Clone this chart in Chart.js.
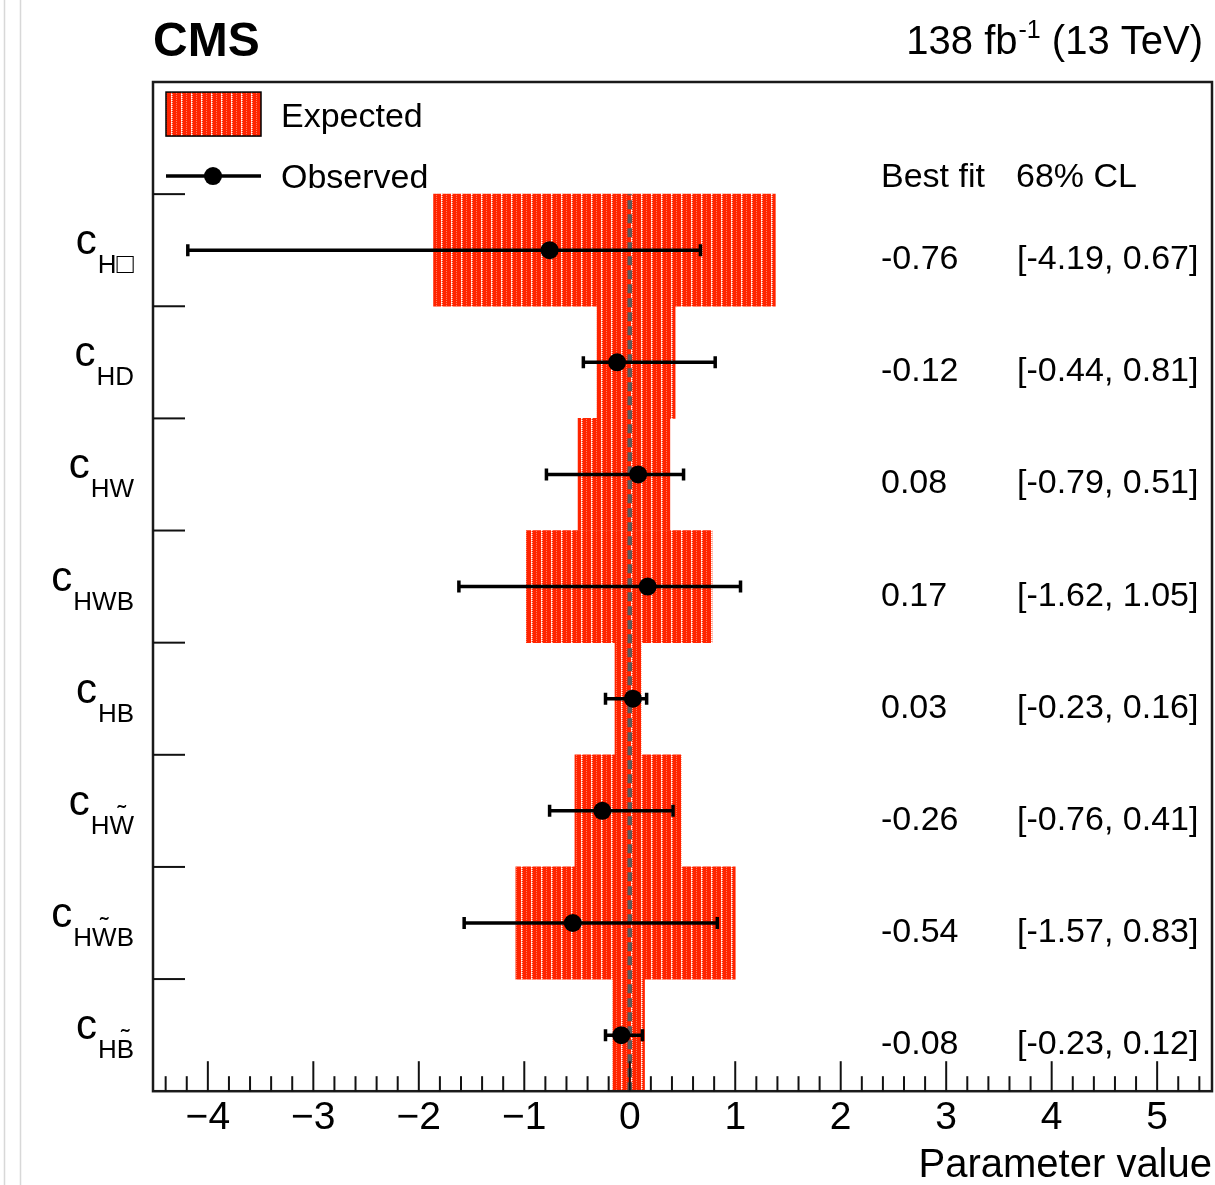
<!DOCTYPE html>
<html>
<head>
<meta charset="utf-8">
<script src="https://cdn.jsdelivr.net/npm/chart.js@4.4.0/dist/chart.umd.min.js"></script>
<style>
  html, body { margin: 0; padding: 0; background: #ffffff; }
  #wrap { position: relative; width: 1215px; height: 1185px; }
</style>
</head>
<body>
<div id="wrap"><canvas id="chart" width="1215" height="1185"></canvas></div>
<script>
const FONT = "'Liberation Sans', Arial, Helvetica, sans-serif";

// Wilson coefficients (one row each, top to bottom)
const coefficients = ['cHbox', 'cHD', 'cHW', 'cHWB', 'cHB', 'cHWtil', 'cHWtilB', 'cHBtil'];
// Subscripts as drawn; U+0303 puts a tilde on the preceding letter
const coeffSub = ['H\u25A1', 'HD', 'HW', 'HWB', 'HB', 'HW\u0303', 'HW\u0303B', 'HB\u0303'];

// Observed best fit and 68% CL interval
const bestFit = [-0.76, -0.12, 0.08, 0.17, 0.03, -0.26, -0.54, -0.08];
const clLow   = [-4.19, -0.44, -0.79, -1.62, -0.23, -0.76, -1.57, -0.23];
const clHigh  = [ 0.67,  0.81,  0.51,  1.05,  0.16,  0.41,  0.83,  0.12];

// Expected 68% CL interval
const expLow  = [-1.86, -0.31, -0.49, -0.98, -0.14, -0.52, -1.08, -0.16];
const expHigh = [ 1.38,  0.43,  0.38,  0.78,  0.11,  0.49,  1.00,  0.14];

// X axis labelled ticks
const xTicks = [-4, -3, -2, -1, 0, 1, 2, 3, 4, 5];

const rowLabels = [''].concat(coefficients);

const canvas = document.getElementById('chart');
const ctx = canvas.getContext('2d');

function makeHatch() {
  const t = document.createElement('canvas');
  t.width = 10; t.height = 4;
  const g = t.getContext('2d');
  g.fillStyle = '#ff2400'; g.fillRect(0, 0, 10, 4);
  g.fillStyle = '#ffffff'; g.fillRect(1, 0, 1, 1); g.fillRect(1, 2, 1, 1);
  g.fillStyle = '#ffa08c'; g.fillRect(1, 1, 1, 1); g.fillRect(1, 3, 1, 1);
  g.fillRect(2, 0, 1, 1); g.fillRect(2, 2, 1, 1);
  g.fillStyle = '#ff7a60'; g.fillRect(6, 1, 1, 1); g.fillRect(6, 3, 1, 1);
  return ctx.createPattern(t, 'repeat');
}
const hatch = makeHatch();

function fmt(v) { return v.toFixed(2); }

// Draw a subscript string, placing a small tilde over letters followed by U+0303
function glyphFont(ch, size) {
  return (ch === '\u25A1' ? Math.round(size * 1.1) : size) + 'px ' + FONT;
}
function drawSub(g, str, x, baseline, size) {
  g.textAlign = 'left';
  g.textBaseline = 'alphabetic';
  let cx = x;
  for (let i = 0; i < str.length; i++) {
    const ch = str[i];
    if (ch === '\u0303') continue;
    g.font = glyphFont(ch, size);
    const w = g.measureText(ch).width;
    g.fillText(ch, cx, baseline);
    if (str[i + 1] === '\u0303') {
      g.textAlign = 'center';
      g.fillText('\u02DC', cx + w / 2, baseline - 11);
      g.textAlign = 'left';
    }
    cx += w;
  }
  return cx - x;
}
function subWidth(g, str, size) {
  let w = 0;
  for (const ch of str.replace(/\u0303/g, '')) {
    g.font = glyphFont(ch, size);
    w += g.measureText(ch).width;
  }
  return w;
}

const decor = {
  id: 'decor',
  beforeDraw(chart) {
    const g = chart.ctx;
    g.save();
    g.strokeStyle = '#d8d8d8';
    g.lineWidth = 1.5;
    [4.5, 20.5].forEach(x => { g.beginPath(); g.moveTo(x, 0); g.lineTo(x, 1185); g.stroke(); });
    g.restore();
  },
  afterDatasetDraw(chart, args) {
    if (args.index !== 0) return;
    const g = chart.ctx;
    const xs = chart.scales.x, ys = chart.scales.y;
    const area = chart.chartArea;
    g.save();
    // dashed reference line at zero
    const x0 = xs.getPixelForValue(0);
    const top = (ys.getPixelForValue(0) + ys.getPixelForValue(1)) / 2;
    g.strokeStyle = '#5a5a5a';
    g.lineWidth = 4.5;
    g.setLineDash([9, 5]);
    g.beginPath(); g.moveTo(x0, area.bottom); g.lineTo(x0, top); g.stroke();
    g.setLineDash([]);
    // observed 68% CL error bars
    g.strokeStyle = '#000';
    g.lineWidth = 3.5;
    coefficients.forEach((c, i) => {
      const y = ys.getPixelForValue(i + 1);
      const a = xs.getPixelForValue(clLow[i]);
      const b = xs.getPixelForValue(clHigh[i]);
      g.beginPath(); g.moveTo(a, y); g.lineTo(b, y); g.stroke();
      g.beginPath(); g.moveTo(a, y - 6); g.lineTo(a, y + 6); g.moveTo(b, y - 6); g.lineTo(b, y + 6); g.stroke();
    });
    g.restore();
  },
  afterDraw(chart) {
    const g = chart.ctx;
    const xs = chart.scales.x, ys = chart.scales.y;
    const area = chart.chartArea;
    g.save();

    // frame
    g.strokeStyle = '#1a1a1a';
    g.lineWidth = 2.5;
    g.strokeRect(area.left, area.top, area.right - area.left, area.bottom - area.top);

    // x ticks pointing into the frame, minor every 0.2
    g.lineWidth = 2;
    g.strokeStyle = '#111';
    for (let k = -25; k <= 30; k++) {
      const v = k / 5;
      if (v <= xs.min || v >= xs.max) continue;
      const px = xs.getPixelForValue(v);
      const len = (k % 5 === 0) ? 30 : 15;
      g.beginPath(); g.moveTo(px, area.bottom); g.lineTo(px, area.bottom - len); g.stroke();
    }
    // y ticks at row boundaries
    for (let i = 1; i < rowLabels.length; i++) {
      const py = (ys.getPixelForValue(i - 1) + ys.getPixelForValue(i)) / 2;
      g.beginPath(); g.moveTo(area.left, py); g.lineTo(area.left + 32, py); g.stroke();
    }

    // row labels: c with subscript
    g.fillStyle = '#000';
    coefficients.forEach((c, i) => {
      const cy = ys.getPixelForValue(i + 1);
      const sw = subWidth(g, coeffSub[i], 26);
      const right = 134;
      g.font = '42px ' + FONT;
      const cw = g.measureText('c').width;
      g.textAlign = 'left';
      g.textBaseline = 'alphabetic';
      const subX = right - sw;
      g.fillText('c', subX - cw - 1, cy + 4);
      drawSub(g, coeffSub[i], subX, cy + 23, 26);
    });

    // best fit values and intervals
    const y0 = ys.getPixelForValue(0);
    g.font = '34px ' + FONT;
    g.textAlign = 'left';
    g.textBaseline = 'alphabetic';
    g.fillText('Best fit', 881, y0 + 49);
    g.fillText('68% CL', 1016, y0 + 49);
    coefficients.forEach((c, i) => {
      const cy = ys.getPixelForValue(i + 1);
      g.fillText(fmt(bestFit[i]), 881, cy + 19);
      g.fillText('[' + fmt(clLow[i]) + ', ' + fmt(clHigh[i]) + ']', 1017, cy + 19);
    });

    // legend
    g.fillStyle = hatch;
    g.fillRect(166, y0 - 46, 95, 44);
    g.strokeStyle = '#000';
    g.lineWidth = 1.5;
    g.strokeRect(166, y0 - 46, 95, 44);
    g.fillStyle = '#000';
    g.fillText('Expected', 281, y0 - 11);
    g.lineWidth = 3.5;
    g.beginPath(); g.moveTo(166, y0 + 38); g.lineTo(261, y0 + 38); g.stroke();
    g.beginPath(); g.arc(213, y0 + 38, 9, 0, Math.PI * 2); g.fill();
    g.fillText('Observed', 281, y0 + 50);

    // header
    g.font = 'bold 48px ' + FONT;
    g.fillText('CMS', 153, 56);
    const main1 = '138 fb', sup = '-1', main2 = ' (13 TeV)';
    g.font = '40px ' + FONT;
    const w1 = g.measureText(main1).width, w3 = g.measureText(main2).width;
    g.font = '25px ' + FONT;
    const w2 = g.measureText(sup).width;
    const x = 1203 - (w1 + w2 + w3 + 1);
    g.font = '40px ' + FONT;
    g.fillText(main1, x, 54);
    g.font = '25px ' + FONT;
    g.fillText(sup, x + w1 + 1, 38);
    g.font = '40px ' + FONT;
    g.fillText(main2, x + w1 + w2 + 1, 54);

    g.restore();
  }
};

new Chart(ctx, {
  type: 'bar',
  data: {
    labels: rowLabels,
    datasets: [
      {
        type: 'bar',
        label: 'Expected',
        data: [null].concat(expLow.map((lo, i) => [lo, expHigh[i]])),
        backgroundColor: hatch,
        borderWidth: 0,
        barPercentage: 1,
        categoryPercentage: 1,
        order: 2
      },
      {
        type: 'line',
        label: 'Observed',
        data: coefficients.map((c, i) => ({ x: bestFit[i], y: c })),
        showLine: false,
        pointRadius: 9,
        pointBackgroundColor: '#000',
        pointBorderWidth: 0,
        order: 1
      }
    ]
  },
  options: {
    indexAxis: 'y',
    responsive: false,
    animation: false,
    events: [],
    layout: { autoPadding: false, padding: { left: 153, right: 3, top: 82, bottom: 0 } },
    plugins: { legend: { display: false }, tooltip: { enabled: false } },
    scales: {
      x: {
        type: 'linear',
        position: 'bottom',
        min: -4.52,
        max: 5.52,
        afterBuildTicks: s => { s.ticks = xTicks.map(v => ({ value: v })); },
        grid: { display: false, drawTicks: false },
        border: { display: false },
        ticks: {
          autoSkip: false,
          maxRotation: 0,
          padding: 4,
          color: '#000',
          font: { family: FONT, size: 39 },
          callback: v => (v < 0 ? '\u2212' + Math.abs(v) : String(v))
        },
        title: {
          display: true,
          text: 'Parameter value',
          align: 'end',
          color: '#000',
          font: { family: FONT, size: 40, lineHeight: 0.975 },
          padding: { top: 0, bottom: 0 }
        }
      },
      y: {
        type: 'category',
        display: false,
        offset: true
      }
    }
  },
  plugins: [decor]
});
</script>
</body>
</html>
